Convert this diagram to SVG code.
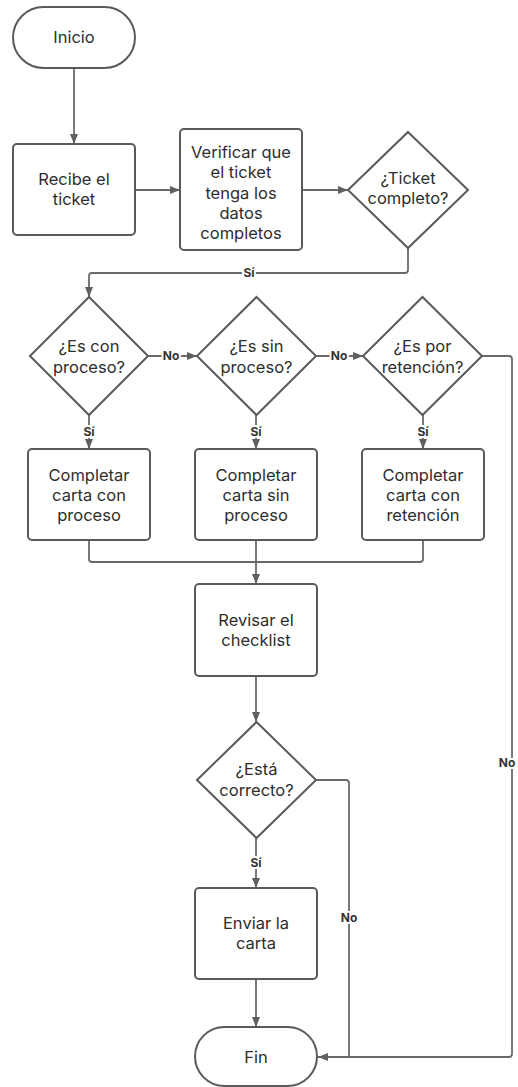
<svg xmlns="http://www.w3.org/2000/svg" width="518" height="1087" viewBox="0 0 518 1087">
<defs>
<marker id="arr" viewBox="0 0 10 10" refX="10" refY="5" markerWidth="10" markerHeight="10" markerUnits="userSpaceOnUse" orient="auto">
<path d="M0,1 L10,5 L0,9 Z" fill="#5f5f5f"/>
</marker>
<style>
.shape{fill:#fff;stroke:#5a5a5a;stroke-width:2}
.t{font-family:Inter,"Liberation Sans",sans-serif;font-size:16.5px;fill:#2e2e2e;text-anchor:middle}
.c{fill:none;stroke:#6a6a6a;stroke-width:1.8;stroke-linejoin:round}
.l{font-family:Inter,"Liberation Sans",sans-serif;font-size:12px;font-weight:bold;fill:#333;text-anchor:middle;stroke:#fff;stroke-width:4;paint-order:stroke}
</style>
</defs>
<rect width="518" height="1087" fill="#fff"/>
<g id="connectors">
<path class="c" d="M74,68 V144" marker-end="url(#arr)"/>
<path class="c" d="M135,190 H180" marker-end="url(#arr)"/>
<path class="c" d="M302,190 H348" marker-end="url(#arr)"/>
<path class="c" d="M408,248 V270 Q408,273 405,273 H92 Q89,273 89,276 V297" marker-end="url(#arr)"/>
<path class="c" d="M148,356 H197" marker-end="url(#arr)"/>
<path class="c" d="M316,356 H363" marker-end="url(#arr)"/>
<path class="c" d="M89,415 V449" marker-end="url(#arr)"/>
<path class="c" d="M256,415 V449" marker-end="url(#arr)"/>
<path class="c" d="M423,415 V449" marker-end="url(#arr)"/>
<path class="c" d="M89,540 V559 Q89,562 92,562 H420 Q423,562 423,559 V540"/>
<path class="c" d="M256,540 V584" marker-end="url(#arr)"/>
<path class="c" d="M256,676 V722" marker-end="url(#arr)"/>
<path class="c" d="M256,838 V888" marker-end="url(#arr)"/>
<path class="c" d="M256,979 V1027" marker-end="url(#arr)"/>
<path class="c" d="M316,780 H346 Q349,780 349,783 V1057"/>
<path class="c" d="M482,356 H509 Q512,356 512,359 V1054 Q512,1057 509,1057 H318" marker-end="url(#arr)"/>
<text class="l" x="249" y="277">Sí</text>
<text class="l" x="171" y="360">No</text>
<text class="l" x="339" y="360">No</text>
<text class="l" x="89" y="436">Sí</text>
<text class="l" x="256" y="436">Sí</text>
<text class="l" x="423" y="436">Sí</text>
<text class="l" x="507" y="767">No</text>
<text class="l" x="256" y="867">Sí</text>
<text class="l" x="349" y="922">No</text>
</g>
<g id="inicio">
<rect class="shape" x="13" y="7" width="122" height="61" rx="30.5"/>
<text class="t" x="74" y="43">Inicio</text>
</g>
<g id="recibe">
<rect class="shape" x="13" y="144" width="122" height="91" rx="4"/>
<text class="t" x="74" y="185">Recibe el</text>
<text class="t" x="74" y="205">ticket</text>
</g>
<g id="verificar">
<rect class="shape" x="180" y="129" width="122" height="121" rx="4"/>
<text class="t" x="241" y="158">Verificar que</text>
<text class="t" x="241" y="178">el ticket</text>
<text class="t" x="241" y="199">tenga los</text>
<text class="t" x="241" y="219">datos</text>
<text class="t" x="241" y="239">completos</text>
</g>
<g id="ticket-completo">
<path class="shape" d="M408,132 L468,190 L408,248 L348,190 Z"/>
<text class="t" x="408" y="184">¿Ticket</text>
<text class="t" x="408" y="204">completo?</text>
</g>
<g id="es-con-proceso">
<path class="shape" d="M89,297 L148,356 L89,415 L30,356 Z"/>
<text class="t" x="89" y="352">¿Es con</text>
<text class="t" x="89" y="373">proceso?</text>
</g>
<g id="es-sin-proceso">
<path class="shape" d="M256.5,297 L316,356 L256.5,415 L197,356 Z"/>
<text class="t" x="256.5" y="352">¿Es sin</text>
<text class="t" x="256.5" y="373">proceso?</text>
</g>
<g id="es-por-retencion">
<path class="shape" d="M422.5,297 L482,356 L422.5,415 L363,356 Z"/>
<text class="t" x="422.5" y="352">¿Es por</text>
<text class="t" x="422.5" y="373">retención?</text>
</g>
<g id="carta-con-proceso">
<rect class="shape" x="28" y="449" width="122" height="91" rx="4"/>
<text class="t" x="89" y="481">Completar</text>
<text class="t" x="89" y="501">carta con</text>
<text class="t" x="89" y="521">proceso</text>
</g>
<g id="carta-sin-proceso">
<rect class="shape" x="195" y="449" width="122" height="91" rx="4"/>
<text class="t" x="256" y="481">Completar</text>
<text class="t" x="256" y="501">carta sin</text>
<text class="t" x="256" y="521">proceso</text>
</g>
<g id="carta-retencion">
<rect class="shape" x="362" y="449" width="122" height="91" rx="4"/>
<text class="t" x="423" y="481">Completar</text>
<text class="t" x="423" y="501">carta con</text>
<text class="t" x="423" y="521">retención</text>
</g>
<g id="revisar">
<rect class="shape" x="195" y="584" width="122" height="92" rx="4"/>
<text class="t" x="256" y="626">Revisar el</text>
<text class="t" x="256" y="646">checklist</text>
</g>
<g id="esta-correcto">
<path class="shape" d="M256.5,722 L316,780 L256.5,838 L197,780 Z"/>
<text class="t" x="256.5" y="775">¿Está</text>
<text class="t" x="256.5" y="796">correcto?</text>
</g>
<g id="enviar">
<rect class="shape" x="195" y="888" width="122" height="91" rx="4"/>
<text class="t" x="256" y="929">Enviar la</text>
<text class="t" x="256" y="949">carta</text>
</g>
<g id="fin">
<rect class="shape" x="195" y="1027" width="122" height="59" rx="29.5"/>
<text class="t" x="256" y="1063">Fin</text>
</g>
</svg>
